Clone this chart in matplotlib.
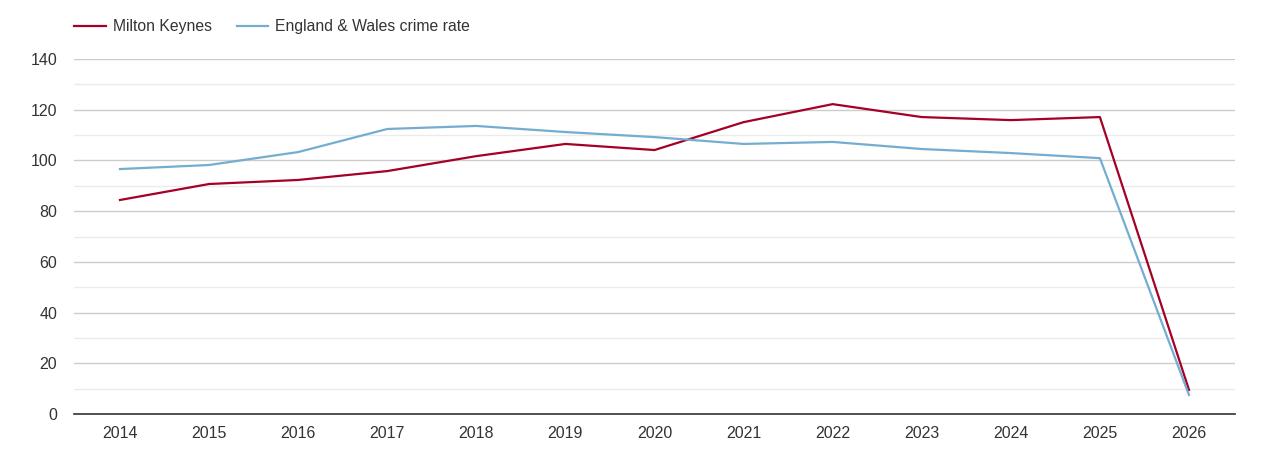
import matplotlib
matplotlib.use("Agg")
import matplotlib.pyplot as plt
from matplotlib.ticker import MultipleLocator

years = [2014, 2015, 2016, 2017, 2018, 2019, 2020, 2021, 2022, 2023, 2024, 2025, 2026]
milton_keynes = [84.4, 90.7, 92.3, 95.8, 101.7, 106.5, 104.1, 115.1, 122.2, 117.1, 115.9, 117.1, 9.5]
england_wales = [96.6, 98.2, 103.3, 112.4, 113.6, 111.2, 109.2, 106.5, 107.3, 104.5, 102.9, 100.9, 7.5]
series_names = ["Milton Keynes", "England & Wales crime rate"]
colors = ["#a50026", "#74add1"]

plt.rcParams['font.family'] = ['Liberation Sans', 'DejaVu Sans']

fig = plt.figure(figsize=(12.7, 4.5), dpi=100)
ax = fig.add_axes([74/1270, 36/450, (1235-74)/1270, (414-59)/450])

ax.plot(years, milton_keynes, color=colors[0], lw=1.6, label=series_names[0], zorder=3)
ax.plot(years, england_wales, color=colors[1], lw=1.6, label=series_names[1], zorder=3)

ax.set_xlim(2014 - 46/89.08, 2026 + 46/89.08)
ax.set_ylim(0, 140)
ax.set_xticks(years)
ax.set_xticklabels([str(y) for y in years])
ax.yaxis.set_major_locator(MultipleLocator(20))
ax.yaxis.set_minor_locator(MultipleLocator(10))
ax.grid(which='major', axis='y', color='#cccccc', lw=1)
ax.grid(which='minor', axis='y', color='#ebebeb', lw=1)
ax.set_axisbelow(True)
for s in ['top', 'right', 'left']:
    ax.spines[s].set_visible(False)
ax.spines['bottom'].set_color('#333333')
ax.spines['bottom'].set_linewidth(1.2)
ax.tick_params(axis='both', which='both', length=0, labelsize=11.5, colors='#333333')
ax.tick_params(axis='y', pad=12)
ax.tick_params(axis='x', pad=9)

leg = fig.legend(loc='upper left', bbox_to_anchor=(60/1270, 1 - 5/450), ncol=2, frameon=False,
                 fontsize=11.3, handlelength=2.0, handletextpad=0.45, columnspacing=1.6)
for t in leg.get_texts():
    t.set_color('#333333')

fig.savefig("out.png", dpi=100)
